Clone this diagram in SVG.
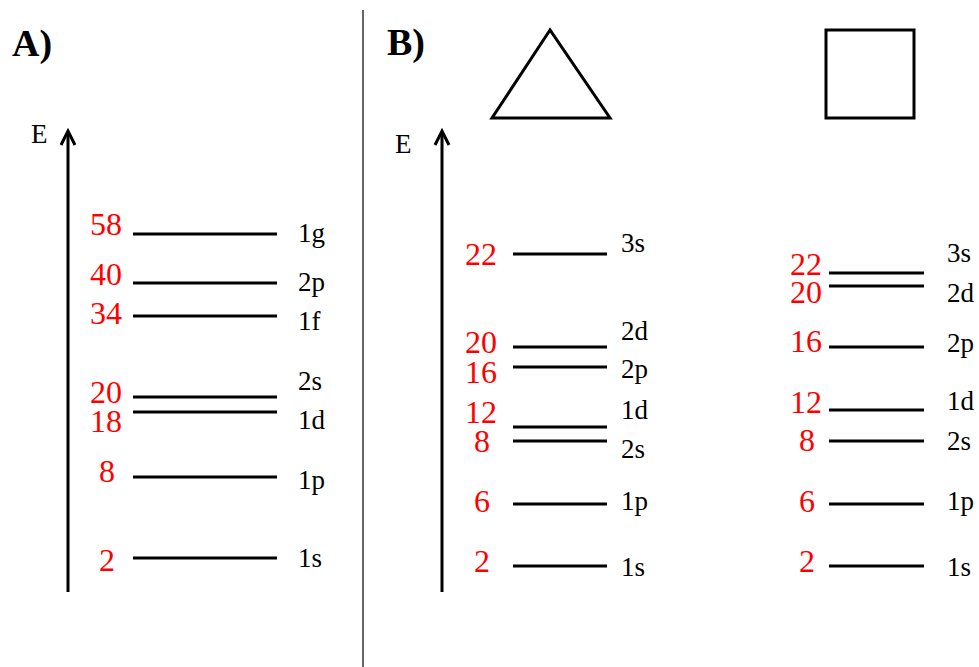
<svg xmlns="http://www.w3.org/2000/svg" width="979" height="667" viewBox="0 0 979 667">
<style>
.n{fill:#ff0000;font-size:32px}
.l{fill:#000;font-size:27px}
.e{fill:#000;font-size:27px}
.h{fill:#000;font-size:38px;font-weight:bold}
.lv{stroke:#000;stroke-width:3;fill:none}
.ax{stroke:#000;stroke-width:3;fill:none}
</style>
<rect width="979" height="667" fill="#fff"/>
<g font-family="Liberation Serif, DejaVu Serif, serif">
<line x1="363" y1="10" x2="363" y2="667" stroke="#000" stroke-width="1.2"/>
<g id="panelA">
<text class="h" x="12" y="56">A)</text>
<g id="axisA"><line class="ax" x1="68" y1="592" x2="68" y2="132"/><polyline class="ax" points="61,145 68,131 75,145"/><text class="e" x="31" y="143">E</text></g>
<g id="A-1g"><line class="lv" x1="133" y1="234" x2="277" y2="234"/><text class="n" x="90" y="235">58</text><text class="l" x="298" y="242">1g</text></g>
<g id="A-2p"><line class="lv" x1="133" y1="283" x2="277" y2="283"/><text class="n" x="90" y="285">40</text><text class="l" x="298" y="291">2p</text></g>
<g id="A-1f"><line class="lv" x1="133" y1="316" x2="277" y2="316"/><text class="n" x="90" y="324">34</text><text class="l" x="298" y="330">1f</text></g>
<g id="A-2s"><line class="lv" x1="133" y1="397" x2="277" y2="397"/><text class="n" x="90" y="403">20</text><text class="l" x="298" y="390">2s</text></g>
<g id="A-1d"><line class="lv" x1="133" y1="412" x2="277" y2="412"/><text class="n" x="90" y="432">18</text><text class="l" x="298" y="429">1d</text></g>
<g id="A-1p"><line class="lv" x1="133" y1="477" x2="277" y2="477"/><text class="n" x="99" y="482">8</text><text class="l" x="298" y="489">1p</text></g>
<g id="A-1s"><line class="lv" x1="133" y1="558" x2="277" y2="558"/><text class="n" x="99" y="571">2</text><text class="l" x="298" y="567">1s</text></g>
</g>
<g id="panelB">
<text class="h" x="387" y="55">B)</text>
<g id="axisB"><line class="ax" x1="442" y1="592" x2="442" y2="132"/><polyline class="ax" points="435,145 442,131 449,145"/><text class="e" x="395" y="153">E</text></g>
<polygon id="triangle" points="550,30 492,118 610,118" fill="none" stroke="#000" stroke-width="3"/>
<rect id="square" x="826" y="30" width="88" height="88" fill="none" stroke="#000" stroke-width="3"/>
<g id="T-3s"><line class="lv" x1="513" y1="254" x2="607" y2="254"/><text class="n" x="465" y="265">22</text><text class="l" x="621" y="252">3s</text></g>
<g id="T-2d"><line class="lv" x1="513" y1="347" x2="607" y2="347"/><text class="n" x="465" y="353">20</text><text class="l" x="621" y="340">2d</text></g>
<g id="T-2p"><line class="lv" x1="513" y1="367" x2="607" y2="367"/><text class="n" x="465" y="383">16</text><text class="l" x="621" y="378">2p</text></g>
<g id="T-1d"><line class="lv" x1="513" y1="427" x2="607" y2="427"/><text class="n" x="465" y="423">12</text><text class="l" x="621" y="419">1d</text></g>
<g id="T-2s"><line class="lv" x1="513" y1="441" x2="607" y2="441"/><text class="n" x="474" y="452">8</text><text class="l" x="621" y="458">2s</text></g>
<g id="T-1p"><line class="lv" x1="513" y1="504" x2="607" y2="504"/><text class="n" x="474" y="512">6</text><text class="l" x="621" y="510">1p</text></g>
<g id="T-1s"><line class="lv" x1="513" y1="566" x2="607" y2="566"/><text class="n" x="474" y="572">2</text><text class="l" x="621" y="576">1s</text></g>
<g id="S-3s"><line class="lv" x1="829" y1="273" x2="924" y2="273"/><text class="n" x="790" y="275">22</text><text class="l" x="947" y="262">3s</text></g>
<g id="S-2d"><line class="lv" x1="829" y1="286" x2="924" y2="286"/><text class="n" x="790" y="303">20</text><text class="l" x="947" y="302">2d</text></g>
<g id="S-2p"><line class="lv" x1="829" y1="347" x2="924" y2="347"/><text class="n" x="790" y="352">16</text><text class="l" x="947" y="352">2p</text></g>
<g id="S-1d"><line class="lv" x1="829" y1="410" x2="924" y2="410"/><text class="n" x="790" y="413">12</text><text class="l" x="947" y="410">1d</text></g>
<g id="S-2s"><line class="lv" x1="829" y1="441" x2="924" y2="441"/><text class="n" x="799" y="451">8</text><text class="l" x="947" y="450">2s</text></g>
<g id="S-1p"><line class="lv" x1="829" y1="504" x2="924" y2="504"/><text class="n" x="799" y="512">6</text><text class="l" x="947" y="510">1p</text></g>
<g id="S-1s"><line class="lv" x1="829" y1="566" x2="924" y2="566"/><text class="n" x="799" y="572">2</text><text class="l" x="947" y="576">1s</text></g>
</g>
</g>
</svg>
